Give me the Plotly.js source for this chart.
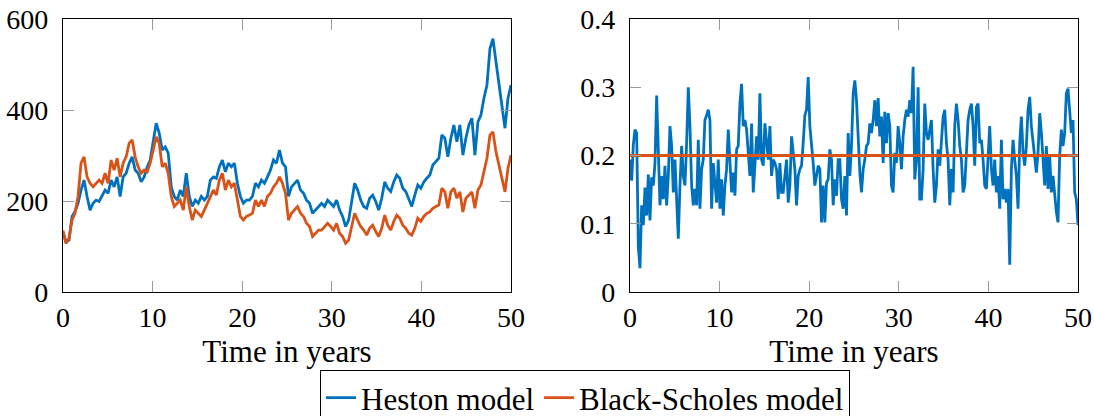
<!DOCTYPE html>
<html>
<head>
<meta charset="utf-8">
<script src="https://cdn.plot.ly/plotly-3.0.1.min.js"></script>
<style>
html,body{margin:0;padding:0;background:#fff;}
#chart{width:1094px;height:416px;}
#chart text{font-family:'Liberation Serif','Times New Roman',serif !important;}
</style>
</head>
<body>
<div id="chart"></div>
<script>
// ---- Data ----
const T_END = 50;

// Simulated price paths (sampled uniformly from t=0 to t=50)
const hestonPrice = [
 130,110,114,166,177,195,224,246,210,180, 195,202,199,210,224,217,246,231,253,210,
 253,261,283,297,268,261,242,253,275,290, 334,371,349,312,319,305,231,210,202,224,
 210,261,210,188,202,195,210,202,210,246, 253,
 250,275,290,264,283,275,283,239,210,195, 202,202,210,239,231,246,239,253,268,290,
 283,312,283,275,210,231,239,246,224,217, 202,195,173,180,188,195,188,202,195,188,
 202,180,166,144,158,202,239,224,202,188,
 184,206,213,199,180,206,242,228,221,242, 257,250,228,221,206,188,213,235,228,242,
 250,257,279,286,294,345,338,297,338,367, 330,367,301,338,367,382,301,374,389,426,
 455,535,557,506,455,404,360,426,455
];
const bsPrice = [
 135,107,118,158,173,210,283,297,253,239, 231,239,246,239,261,239,290,268,294,253,
 283,297,327,334,297,275,261,268,264,283, 312,341,327,275,283,261,210,188,195,202,
 180,231,188,158,180,173,166,180,195,210, 224,
 213,246,261,224,246,231,239,202,166,158, 166,169,173,202,188,202,188,210,217,231,
 239,253,239,217,158,173,180,188,173,166, 151,144,122,129,136,136,144,151,144,136,
 151,129,122,107,114,144,173,158,144,136,
 125,140,147,133,122,140,169,147,136,155, 169,162,147,140,129,125,140,162,155,166,
 173,176,184,188,191,228,220,184,220,228, 206,220,176,206,213,220,184,224,235,265,
 294,345,352,308,279,250,220,272,301
];

// Volatility paths
const hestonVol = [
 0.194,0.163,0.216,0.238,0.233,0.066,0.035,0.127,0.098,0.153,
 0.112,0.172,0.105,0.168,0.156,0.189,0.288,0.218,0.127,0.170,
 0.136,0.185,0.127,0.170,0.243,0.214,0.146,0.194,0.141,0.078,
 0.156,0.214,0.170,0.156,0.218,0.300,0.243,0.156,0.127,0.151,
 0.127,0.223,0.122,0.180,0.194,0.252,0.259,0.267,0.252,0.122,
 0.189,0.156,0.131,0.194,0.122,0.165,0.112,0.156,0.180,0.238,
 0.194,0.146,0.175,0.141,0.209,0.214,0.276,0.305,0.243,0.252,
 0.238,0.194,0.170,0.247,0.146,0.185,0.228,0.194,0.291,0.194,
 0.185,0.247,0.214,0.194,0.243,0.170,0.194,0.189,0.180,0.136,
 0.189,0.146,
 0.146,0.175,0.194,0.131,0.156,0.228,0.204,0.180,0.127,0.170,
 0.180,0.185,0.218,0.259,0.267,0.315,0.243,0.218,0.189,0.156,
 0.170,0.185,0.180,0.102,0.156,0.102,0.160,0.165,0.209,0.194,
 0.127,0.165,0.141,0.194,0.194,0.136,0.122,0.170,0.112,0.233,
 0.170,0.214,0.291,0.310,0.281,0.228,0.175,0.146,0.180,0.194,
 0.214,0.218,0.247,0.233,0.252,0.281,0.243,0.284,0.228,0.257,
 0.189,0.264,0.218,0.262,0.243,0.156,0.146,0.204,0.189,0.243,
 0.218,0.180,0.228,0.252,0.267,0.257,0.281,0.262,0.330,0.165,
 0.194,0.300,0.136,0.136,0.180,0.276,0.233,0.223,0.238,0.252,
 0.180,
 0.131,0.156,0.209,0.185,0.218,0.257,0.267,0.218,0.194,0.127,
 0.180,0.146,0.243,0.276,0.252,0.214,0.194,0.146,0.156,0.204,
 0.252,0.267,0.276,0.243,0.185,0.271,0.276,0.218,0.223,0.194,
 0.156,0.151,0.204,0.243,0.180,0.156,0.194,0.146,0.170,0.122,
 0.223,0.136,0.151,0.131,0.151,0.040,0.180,0.223,0.194,0.170,
 0.122,0.218,0.257,0.204,0.185,0.214,0.267,0.286,0.243,0.218,
 0.199,0.175,0.204,0.262,0.233,0.194,0.156,0.214,0.151,0.199,
 0.146,0.170,0.136,0.117,0.102,0.199,0.238,0.214,0.233,0.291,
 0.298,0.267,0.233,0.252,0.146,0.136,0.098
];
const bsVolTime = [0, 50];
const bsVol = [0.2, 0.2];

const seriesNames = ['Heston model', 'Black-Scholes model'];
const xTickVals = [0, 10, 20, 30, 40, 50];
const priceTickVals = [0, 200, 400, 600];
const volTickVals = [0, 0.1, 0.2, 0.3, 0.4];
const xTitle = 'Time in years';

// uniform sampling times
const timesFor = arr => arr.map((_, i) => i * T_END / (arr.length - 1));

// ---- Style ----
const BLUE = '#0072BD', ORANGE = '#D95319';
const FONT = 'Liberation Serif, Times New Roman, serif';
const LW = 2.8;

const traces = [
  {x: timesFor(hestonPrice), y: hestonPrice, type: 'scatter', mode: 'lines', name: seriesNames[0],
   line: {color: BLUE, width: LW}, xaxis: 'x', yaxis: 'y'},
  {x: timesFor(bsPrice), y: bsPrice, type: 'scatter', mode: 'lines', name: seriesNames[1],
   line: {color: ORANGE, width: LW}, xaxis: 'x', yaxis: 'y'},
  {x: timesFor(hestonVol), y: hestonVol, type: 'scatter', mode: 'lines', name: seriesNames[0],
   line: {color: BLUE, width: LW}, xaxis: 'x2', yaxis: 'y2', showlegend: false},
  {x: bsVolTime, y: bsVol, type: 'scatter', mode: 'lines', name: seriesNames[1],
   line: {color: ORANGE, width: LW}, xaxis: 'x2', yaxis: 'y2', showlegend: false}
];

const W = 1094, H = 416;
const M = {l: 63, r: 16, t: 19, b: 124, autoexpand: false};
const PW = W - M.l - M.r, PH = H - M.t - M.b;

function baseAxis() {
  return {
    ticks: 'inside', ticklen: 11, tickwidth: 1, tickcolor: '#9a9a9a',
    showline: true, linecolor: 'black', linewidth: 1.2, mirror: 'ticks',
    showgrid: false, zeroline: false, automargin: false,
    tickfont: {family: FONT, size: 28, color: 'black'}
  };
}
function xAx(dom, anchor) {
  return Object.assign(baseAxis(), {
    domain: dom, anchor: anchor, range: [0, 50], tickvals: xTickVals,
    ticklabelstandoff: 0,
    title: {text: xTitle, font: {family: FONT, size: 31, color: 'black'}, standoff: 8}
  });
}
function yAx(anchor, range, vals) {
  return Object.assign(baseAxis(), {
    domain: [0, 1], anchor: anchor, range: range, tickvals: vals, ticklabelstandoff: 8
  });
}

const layout = {
  width: W, height: H,
  margin: M,
  paper_bgcolor: 'white', plot_bgcolor: 'white',
  font: {family: FONT, size: 28, color: 'black'},
  showlegend: true,
  legend: {
    orientation: 'h', x: (585 - M.l) / PW, xanchor: 'center',
    y: (PH - (370 - M.t)) / PH, yanchor: 'top',
    bordercolor: 'black', borderwidth: 1, bgcolor: 'white',
    font: {family: FONT, size: 31, color: 'black'},
    tracegroupgap: 0, itemwidth: 30
  },
  xaxis: xAx([0, 448 / PW], 'y'),
  xaxis2: xAx([(630 - M.l) / PW, 1], 'y2'),
  yaxis: yAx('x', [0, 600], priceTickVals),
  yaxis2: yAx('x2', [0, 0.4], volTickVals)
};

Plotly.newPlot('chart', traces, layout, {displayModeBar: false, staticPlot: true});
</script>
</body>
</html>
